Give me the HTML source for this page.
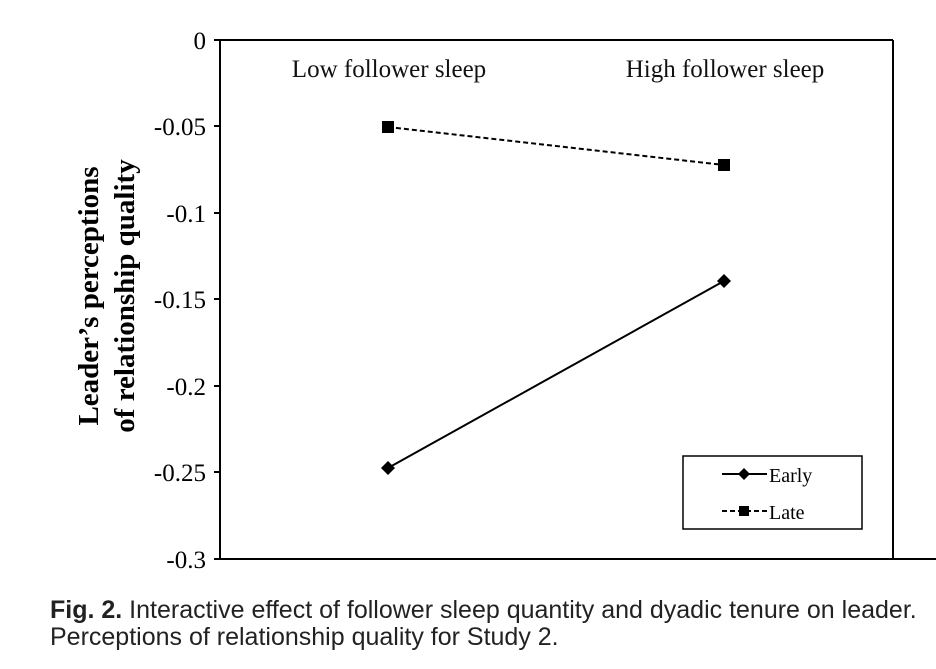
<!DOCTYPE html>
<html><head><meta charset="utf-8"><style>
html,body{margin:0;padding:0;background:#fff;}
body{width:936px;height:669px;overflow:hidden;position:relative;}
.cap{position:absolute;left:50px;font-family:"Liberation Sans Narrow","Liberation Sans",sans-serif;font-size:25px;color:#222;white-space:nowrap;}
</style></head><body>
<svg width="936" height="669" style="position:absolute;left:0;top:0" font-family="Liberation Serif, serif">
<g stroke="#000" stroke-width="2" fill="none">
<line x1="220" y1="40" x2="893" y2="40"/>
<line x1="220" y1="40" x2="220" y2="559"/>
<line x1="220" y1="559" x2="936" y2="559"/>
<line x1="893" y1="40" x2="893" y2="559"/>
<line x1="214" y1="40" x2="220" y2="40"/>
<line x1="214" y1="126" x2="220" y2="126"/>
<line x1="214" y1="213" x2="220" y2="213"/>
<line x1="214" y1="299" x2="220" y2="299"/>
<line x1="214" y1="386" x2="220" y2="386"/>
<line x1="214" y1="472" x2="220" y2="472"/>
<line x1="214" y1="559" x2="220" y2="559"/>
</g>
<g font-size="25" text-anchor="end" fill="#000">
<text x="206" y="49">0</text>
<text x="206" y="135">-0.05</text>
<text x="206" y="222">-0.1</text>
<text x="206" y="308">-0.15</text>
<text x="206" y="395">-0.2</text>
<text x="206" y="481">-0.25</text>
<text x="206" y="568">-0.3</text>
</g>
<g font-size="25" fill="#111" text-anchor="middle">
<text x="389" y="77">Low follower sleep</text>
<text x="725" y="77">High follower sleep</text>
</g>
<g font-size="29" font-weight="bold" text-anchor="middle" fill="#000">
<text transform="translate(98,296) rotate(-90)">Leader’s perceptions</text>
<text transform="translate(134,296) rotate(-90)">of relationship quality</text>
</g>
<line x1="388" y1="127" x2="724" y2="165" stroke="#000" stroke-width="2" stroke-dasharray="5,3"/>
<rect x="382" y="121" width="12" height="12" fill="#000"/>
<rect x="718" y="159" width="12" height="12" fill="#000"/>
<line x1="388" y1="468" x2="724" y2="281" stroke="#000" stroke-width="2"/>
<polygon points="388,461 395,468 388,475 381,468" fill="#000"/>
<polygon points="724,274 731,281 724,288 717,281" fill="#000"/>
<rect x="683" y="456" width="179" height="73" fill="#fff" stroke="#000" stroke-width="1.5"/>
<line x1="722" y1="474" x2="767" y2="474" stroke="#000" stroke-width="2"/>
<polygon points="744,468 750,474 744,480 738,474" fill="#000"/>
<line x1="722" y1="511" x2="767" y2="511" stroke="#000" stroke-width="2" stroke-dasharray="5,3"/>
<rect x="739" y="506" width="10" height="10" fill="#000"/>
<g font-size="20" fill="#000">
<text x="769" y="482">Early</text>
<text x="769" y="519">Late</text>
</g>
</svg>
<div class="cap" style="top:596px;"><b>Fig. 2.</b> Interactive effect of follower sleep quantity and dyadic tenure on leader.</div>
<div class="cap" style="top:623px;">Perceptions of relationship quality for Study 2.</div>
</body></html>
